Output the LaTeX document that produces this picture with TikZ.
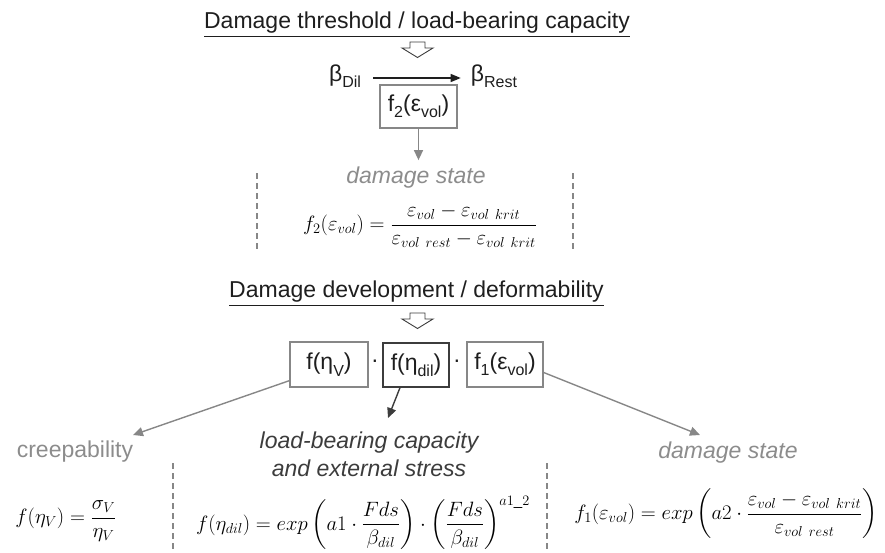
\documentclass[tikz,border=0pt]{standalone}
\usepackage{amsmath}
\usepackage{fontspec}
\setmainfont{Liberation Sans}
\usetikzlibrary{arrows.meta,calc}
\newcommand\sbx[1]{\raisebox{-0.28em}{\fontsize{16}{16}\selectfont #1}}
\definecolor{lblgray}{RGB}{140,140,140}
\definecolor{boxgray}{RGB}{135,135,135}
\definecolor{darkline}{RGB}{60,60,60}
\definecolor{titlecol}{RGB}{30,30,30}
\tikzset{
  lbl/.style={inner sep=0pt, font=\fontsize{23}{28}\selectfont},
  fbox/.style={draw=boxgray, line width=1.3pt, inner sep=0pt, font=\fontsize{23}{28}\selectfont, text=titlecol},
  eqn/.style={inner sep=0pt, font=\fontsize{21.5}{25}\selectfont},
  grayarrow/.style={draw=boxgray, line width=1.4pt, -{Triangle[length=10pt,width=9pt]}},
  darkarrow/.style={draw=darkline, line width=1.4pt, -{Triangle[length=10pt,width=9pt]}},
  hollow/.style={draw=darkline, line width=0.9pt, fill=white, line join=miter},
  sep/.style={draw=boxgray, line width=1.1pt, dash pattern=on 6pt off 4pt}
}
\begin{document}
\begin{tikzpicture}[x=1pt,y=-1pt]
\useasboundingbox (0,0) rectangle (885,552);
% ---- top part
\node[lbl, anchor=base, text=titlecol] (t1) at (417,28) {\underline{Damage threshold / load-bearing capacity}};
\draw[hollow] (410,42) -- ++(15,0) -- ++(0,6) -- ++(8,0) -- ++(-15.5,9.5) -- ++(-15.5,-9.5) -- ++(8,0) -- cycle;
\node[lbl, text=titlecol] (bdil) at (345,76) {β\sbx{Dil}};
\node[lbl, text=titlecol] (brest) at (494,76) {β\sbx{Rest}};
\draw[line width=1.2pt, titlecol, -{Triangle[length=10pt,width=8pt]}] ($(bdil.east)+(12,2)$) -- ($(brest.west)+(-10,2)$);
\node[fbox, minimum width=77pt, minimum height=43pt] (f2) at (418.5,106.5) {f\sbx{2}(ε\sbx{vol})};
\node[lbl, text=lblgray, anchor=base, font=\fontsize{23}{28}\selectfont\itshape] (ds1) at (416,183) {damage state};
\draw[grayarrow, shorten >=6pt] (f2.south) -- (f2.south |- ds1.north);
\coordinate (s1a) at (257,173); \coordinate (s1b) at (257,250);
\coordinate (s2a) at (573,173); \coordinate (s2b) at (573,250);
\draw[sep] (s1a) -- (s1b);
\draw[sep] (s2a) -- (s2b);
\node[eqn] (eq2) at (420,226) {$\displaystyle f_2(\varepsilon_{vol}) = \frac{\varepsilon_{vol}-\varepsilon_{vol\ krit}}{\varepsilon_{vol\ rest}-\varepsilon_{vol\ krit}}$};
% ---- bottom part
\node[lbl, anchor=base, text=titlecol] (t2) at (416.5,297) {\underline{Damage development / deformability}};
\draw[hollow] (410,313) -- ++(15,0) -- ++(0,6) -- ++(8,0) -- ++(-15.5,9.5) -- ++(-15.5,-9.5) -- ++(8,0) -- cycle;
\node[fbox, minimum width=78pt, minimum height=45pt] (fnv) at (329,364.5) {f(η\sbx{V})};
\node[lbl, text=titlecol] (dot1) at (375,364) {·};
\node[fbox, draw=darkline, minimum width=66pt, minimum height=44pt] (fdil) at (416,365) {f(η\sbx{dil})};
\node[lbl, text=titlecol] (dot2) at (457,364) {·};
\node[fbox, minimum width=76pt, minimum height=45pt] (f1) at (505,364.5) {f\sbx{1}(ε\sbx{vol})};
% labels
\node[lbl, anchor=base, text=lblgray] (creep) at (75,457) {creepability};
\node[lbl, align=center, text=darkline, font=\fontsize{23}{28}\selectfont\itshape] (lbc) at (369,454) {load-bearing capacity\\and external stress};
\node[lbl, anchor=base, text=lblgray, font=\fontsize{23}{28}\selectfont\itshape] (ds2) at (728,458) {damage state};
% arrows
\coordinate (tipA) at (133,435);
\coordinate (tipB) at (388,418);
\coordinate (tipC) at (700,435);
\draw[grayarrow] ($(fnv.south west)+(0,-7)$) -- (tipA);
\draw[darkarrow] ($(fdil.south)+(-16,0)$) -- (tipB);
\draw[grayarrow] ($(f1.east)+(0,8)$) -- (tipC);
% separators
\coordinate (s3a) at (173,463); \coordinate (s3b) at (173,552);
\coordinate (s4a) at (547,463); \coordinate (s4b) at (547,552);
\draw[sep] (s3a) -- (s3b);
\draw[sep] (s4a) -- (s4b);
% formulas
\node[eqn] (eqv) at (66,521) {$\displaystyle f(\eta_V) = \frac{\sigma_V}{\eta_V}$};
\node[eqn] (eqd) at (363,523) {$\displaystyle f(\eta_{dil}) = exp\left(a1\cdot\frac{Fds}{\beta_{dil}}\right)\cdot\left(\frac{Fds}{\beta_{dil}}\right)^{a1\text{\_}2}$};
\node[eqn, font=\fontsize{22.5}{26}\selectfont] (eq1) at (726,514) {$\displaystyle f_1(\varepsilon_{vol}) = exp\left(a2\cdot\frac{\varepsilon_{vol}-\varepsilon_{vol\ krit}}{\varepsilon_{vol\ rest}}\right)$};
\end{tikzpicture}
\end{document}
